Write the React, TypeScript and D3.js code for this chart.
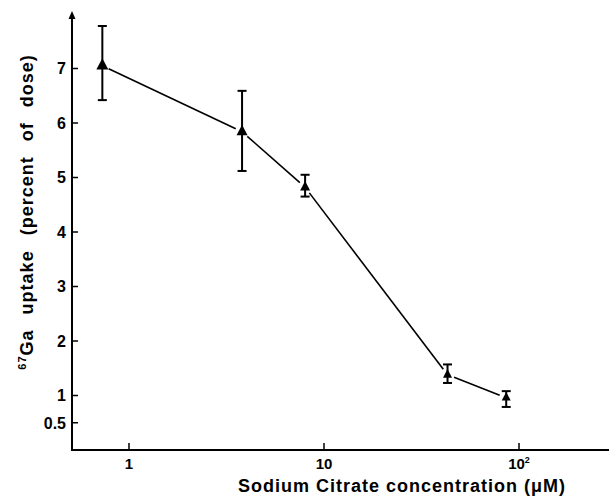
import React from "react";
import * as d3 from "d3";

const concentrations = [0.73, 3.8, 8.0, 43, 86];
const uptake = [7.05, 5.84, 4.82, 1.38, 0.96];
const errHigh = [7.78, 6.59, 5.05, 1.57, 1.08];
const errLow = [6.42, 5.12, 4.65, 1.23, 0.79];
const markerSizes = [12, 11, 10, 9, 9];

const yTicks = [0.5, 1, 2, 3, 4, 5, 6, 7];
const yTickLabels = ["0.5", "1", "2", "3", "4", "5", "6", "7"];
const xTicks = [1, 10, 100];

const W = 609;
const H = 500;
const FONT = "'Liberation Sans', Arial, Helvetica, sans-serif";

export default function App() {
  const x = d3.scaleLog().domain([1, 100]).range([129, 519]);
  const y = d3.scaleLinear().domain([0, 7]).range([450, 68.5]);
  const axisX0 = 72;
  const axisY0 = 450;

  const pts = concentrations.map((c, i) => ({ px: x(c), py: y(uptake[i]), i }));
  const gap = 7;
  const segs = pts.slice(1).map((p, k) => {
    const a = pts[k];
    const dx = p.px - a.px;
    const dy = p.py - a.py;
    const len = Math.hypot(dx, dy);
    const ux = dx / len;
    const uy = dy / len;
    return { x1: a.px + ux * gap, y1: a.py + uy * gap, x2: p.px - ux * gap, y2: p.py - uy * gap };
  });

  const tri = (cx: number, cy: number, s: number) => {
    const h = s * 0.95;
    const pathGen = d3.line();
    return (
      pathGen([
        [cx, cy - (2 * h) / 3],
        [cx + s / 2, cy + h / 3],
        [cx - s / 2, cy + h / 3],
      ]) + "Z"
    );
  };

  return (
    <svg width={W} height={H} style={{ display: "block", position: "absolute", left: 0, top: 0 }}>
      <rect width={W} height={H} fill="white" />
      {/* axes */}
      <line x1={axisX0} y1={axisY0} x2={axisX0} y2={14} stroke="black" strokeWidth={2} />
      <path d={`M${axisX0 - 3.5},${19} L${axisX0},${11} L${axisX0 + 3.5},${19} Z`} fill="black" />
      <line x1={axisX0 - 1} y1={axisY0} x2={W} y2={axisY0} stroke="black" strokeWidth={2} />

      {/* y ticks */}
      {yTicks.map((t, i) => (
        <g key={"yt" + i}>
          <line x1={axisX0} x2={axisX0 + 6} y1={y(t)} y2={y(t)} stroke="black" strokeWidth={1.5} />
          <text
            x={66}
            y={y(t)}
            dy="0.36em"
            textAnchor="end"
            fontFamily={FONT}
            fontWeight="bold"
            fontSize={16}
          >
            {yTickLabels[i]}
          </text>
        </g>
      ))}

      {/* x ticks */}
      {xTicks.map((t, i) => (
        <g key={"xt" + i}>
          <line x1={x(t)} x2={x(t)} y1={axisY0} y2={axisY0 - 7} stroke="black" strokeWidth={1.5} />
          <text
            x={x(t)}
            y={469}
            textAnchor="middle"
            fontFamily={FONT}
            fontWeight="bold"
            fontSize={15}
          >
            {t === 100 ? (
              <>
                10
                <tspan fontSize={9} dy={-6}>
                  2
                </tspan>
              </>
            ) : (
              String(t)
            )}
          </text>
        </g>
      ))}

      {/* axis labels */}
      <text
        x={402}
        y={492}
        textAnchor="middle"
        fontFamily={FONT}
        fontWeight="bold"
        fontSize={18}
        letterSpacing={1}
      >
        Sodium Citrate concentration (μM)
      </text>
      <text
        transform="translate(33,212) rotate(-90)"
        textAnchor="middle"
        fontFamily={FONT}
        fontWeight="bold"
        fontSize={18}
        letterSpacing={1}
        wordSpacing={9}
      >
        <tspan fontSize={11} dy={-7}>67</tspan>
        <tspan dy={7}>Ga uptake (percent of dose)</tspan>
      </text>

      {/* connecting line */}
      {segs.map((s, i) => (
        <line key={"s" + i} x1={s.x1} y1={s.y1} x2={s.x2} y2={s.y2} stroke="black" strokeWidth={1.6} />
      ))}

      {/* error bars */}
      {pts.map((p) => {
        const cap = 9;
        const yh = y(errHigh[p.i]);
        const yl = y(errLow[p.i]);
        return (
          <g key={"e" + p.i}>
            <line x1={p.px} x2={p.px} y1={yh} y2={yl} stroke="black" strokeWidth={2} />
            <line x1={p.px - cap / 2} x2={p.px + cap / 2} y1={yh} y2={yh} stroke="black" strokeWidth={2} />
            <line x1={p.px - cap / 2} x2={p.px + cap / 2} y1={yl} y2={yl} stroke="black" strokeWidth={2} />
          </g>
        );
      })}

      {/* markers */}
      {pts.map((p) => (
        <path key={"m" + p.i} d={tri(p.px, p.py, markerSizes[p.i])} fill="black" />
      ))}
    </svg>
  );
}
